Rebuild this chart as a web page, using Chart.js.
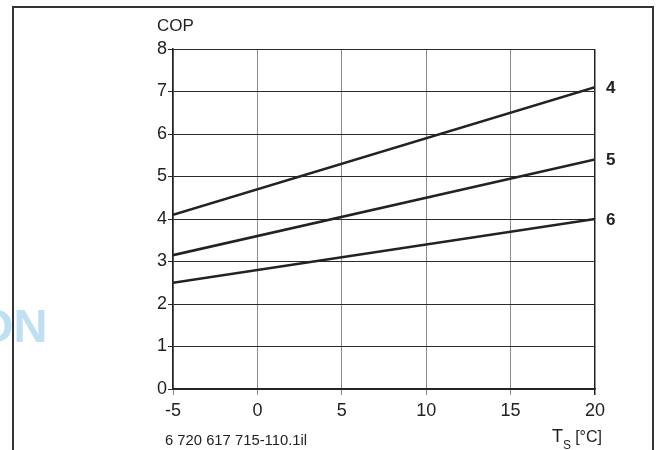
<!DOCTYPE html>
<html>
<head>
<meta charset="utf-8">
<script src="https://cdn.jsdelivr.net/npm/chart.js@4"></script>
<style>
  html, body { margin: 0; padding: 0; background: #fff; }
  #wrap { width: 658px; height: 450px; position: relative; }
</style>
</head>
<body>
<div id="wrap"><canvas id="copChart" width="658" height="450"></canvas></div>
<script>
// source temperature (x) at the two ends of each line
const tempRange = [-5, 20];
// COP values at those ends, one array per curve
const cop4 = [4.1, 7.1];
const cop5 = [3.15, 5.4];
const cop6 = [2.5, 4.0];
const curveLabels = ['4', '5', '6'];
const xTicks = [-5, 0, 5, 10, 15, 20];
const yTicks = [0, 1, 2, 3, 4, 5, 6, 7, 8];

const tickFont = { family: "'Liberation Sans', Arial, sans-serif", size: 18 };

function toPoints(values) {
  return tempRange.map((t, i) => ({ x: t, y: values[i] }));
}

// Frame, axis titles, curve numbers and drawing code
const decorations = {
  id: 'decorations',
  beforeDraw(chart) {
    const ctx = chart.ctx;
    ctx.save();
    // faint watermark fragment on the left
    ctx.fillStyle = '#bfe0f3';
    ctx.font = "bold 47px 'Liberation Sans', Arial, sans-serif";
    ctx.textBaseline = 'alphabetic';
    ctx.textAlign = 'left';
    ctx.fillText('ON', -23, 342);
    ctx.restore();
  },
  afterDraw(chart) {
    const ctx = chart.ctx;
    const xs = chart.scales.x;
    const ys = chart.scales.y;
    ctx.save();

    // outer frame
    ctx.strokeStyle = '#333';
    ctx.lineWidth = 2;
    ctx.beginPath();
    ctx.moveTo(13, 450);
    ctx.lineTo(13, 7);
    ctx.lineTo(653, 7);
    ctx.lineTo(653, 450);
    ctx.stroke();

    // y title
    ctx.fillStyle = '#222';
    ctx.font = "17px 'Liberation Sans', Arial, sans-serif";
    ctx.textAlign = 'left';
    ctx.textBaseline = 'alphabetic';
    ctx.fillText('COP', 157, 31);

    // x title with subscript
    ctx.font = "18px 'Liberation Sans', Arial, sans-serif";
    ctx.fillText('T', 552, 442);
    const tw = ctx.measureText('T').width;
    ctx.font = "12px 'Liberation Sans', Arial, sans-serif";
    ctx.fillText('S', 552 + tw, 449);
    ctx.font = "16px 'Liberation Sans', Arial, sans-serif";
    ctx.textAlign = 'right';
    ctx.fillText('[°C]', 602, 442);

    // drawing number
    ctx.textAlign = 'left';
    ctx.font = "14.8px 'Liberation Sans', Arial, sans-serif";
    ctx.fillText('6 720 617 715-110.1il', 165, 445);

    // curve numbers at right end of each line
    ctx.font = "bold 17px 'Liberation Sans', Arial, sans-serif";
    ctx.textBaseline = 'middle';
    ctx.textAlign = 'left';
    chart.data.datasets.forEach((ds, i) => {
      const last = ds.data[ds.data.length - 1];
      ctx.fillText(curveLabels[i], xs.getPixelForValue(last.x) + 11, ys.getPixelForValue(last.y) + 1);
    });
    ctx.restore();
  }
};

const lineStyle = { borderColor: '#222', borderWidth: 2.6, pointRadius: 0, fill: false, tension: 0 };

new Chart(document.getElementById('copChart'), {
  type: 'line',
  data: {
    datasets: [
      { label: curveLabels[0], data: toPoints(cop4), ...lineStyle },
      { label: curveLabels[1], data: toPoints(cop5), ...lineStyle },
      { label: curveLabels[2], data: toPoints(cop6), ...lineStyle }
    ]
  },
  options: {
    responsive: false,
    animation: false,
    layout: { padding: { left: 0, right: 63, top: 49, bottom: 0 } },
    plugins: { legend: { display: false }, tooltip: { enabled: false } },
    scales: {
      x: {
        type: 'linear',
        min: xTicks[0],
        max: xTicks[xTicks.length - 1],
        afterBuildTicks(scale) { scale.ticks = xTicks.map(v => ({ value: v })); },
        afterFit(scale) { scale.height = 61; },
        ticks: { color: '#222', font: tickFont, padding: 5, maxRotation: 0 },
        grid: {
          color: ctx => (ctx.tick && ctx.tick.value === 20 ? '#222' : '#8a8a8a'),
          lineWidth: ctx => (ctx.tick && ctx.tick.value === 20 ? 1.5 : 1),
          tickLength: 6
        },
        border: { color: '#222', width: 1.5 }
      },
      y: {
        min: yTicks[0],
        max: yTicks[yTicks.length - 1],
        afterBuildTicks(scale) { scale.ticks = yTicks.map(v => ({ value: v })); },
        afterFit(scale) { scale.width = 173; },
        ticks: { color: '#222', font: tickFont, padding: 1 },
        grid: { color: '#2a2a2a', lineWidth: 1, tickLength: 5 },
        border: { color: '#222', width: 1.5 }
      }
    }
  },
  plugins: [decorations]
});
</script>
</body>
</html>
